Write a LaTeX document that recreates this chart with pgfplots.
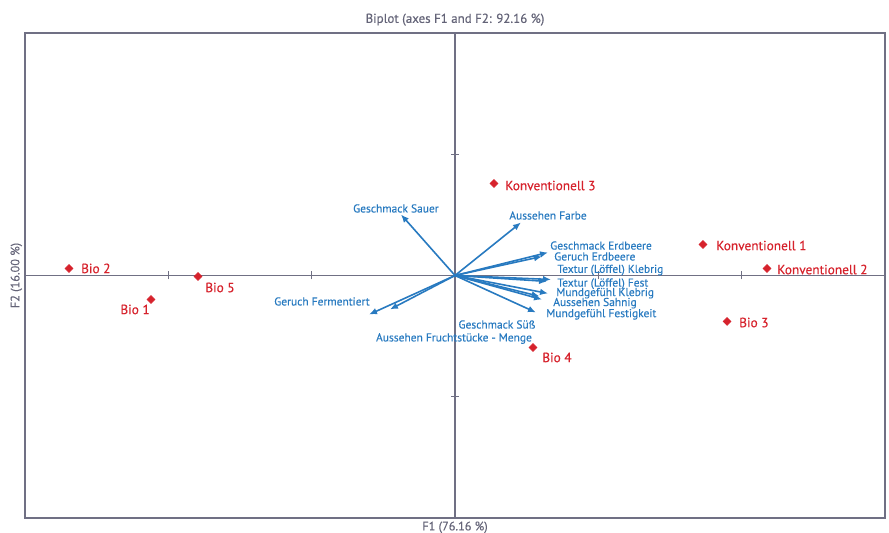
\documentclass[border=0pt]{standalone}
\usepackage{fontspec}
\setmainfont{PT Sans}
\newfontfamily\medfont{PT Sans}[FakeBold=0.35]
\usepackage{pgfplots}
\pgfplotsset{compat=1.18}
\usetikzlibrary{arrows.meta,calc}

\definecolor{obsred}{RGB}{214,34,44}
\definecolor{varblue}{RGB}{40,122,192}
\definecolor{axgray}{RGB}{112,112,132}
\definecolor{txtgray}{RGB}{100,100,120}

\tikzset{
  vec/.style={varblue, line width=1.2pt, -{Latex[length=6pt,width=5pt]}},
  vlab/.style={font=\medfont\fontsize{8.6}{10}\selectfont, text=varblue, inner sep=0pt},
  olab/.style={font=\medfont\fontsize{10}{12}\selectfont, text=obsred, inner sep=0pt},
  ttl/.style={text=txtgray, font=\medfont\fontsize{9.2}{11}\selectfont},
}

\begin{document}
\begin{tikzpicture}
\begin{axis}[
  name=ax,
  scale only axis,
  width=645pt, height=363.75pt,
  xmin=-3, xmax=3, ymin=-2, ymax=2,
  axis lines=middle,
  axis line style={axgray, line width=0.9pt, -},
  xtick={-2,-1,1,2}, ytick={-1,1},
  xticklabels={}, yticklabels={},
  tick align=center,
  major tick length=6pt,
  tick style={axgray, line width=0.9pt},
  clip=false,
]
% frame
\draw[axgray, line width=0.9pt] (rel axis cs:0,0) rectangle (rel axis cs:1,1);

% variable vectors
\addplot[vec] coordinates {(0,0) (0.649,0.190)};   % Geschmack Erdbeere
\addplot[vec] coordinates {(0,0) (0.607,0.157)};   % Geruch Erdbeere
\addplot[vec] coordinates {(0,0) (0.670,-0.033)};  % Textur (Löffel) Klebrig
\addplot[vec] coordinates {(0,0) (0.642,-0.049)};  % Textur (Löffel) Fest
\addplot[vec] coordinates {(0,0) (0.649,-0.148)};  % Mundgefühl Klebrig
\addplot[vec] coordinates {(0,0) (0.607,-0.198)};  % Aussehen Sahnig
\addplot[vec] coordinates {(0,0) (0.590,-0.172)};  % Geschmack Süß
\addplot[vec] coordinates {(0,0) (0.565,-0.305)};  % Mundgefühl Festigkeit
\addplot[vec] coordinates {(0,0) (-0.600,-0.322)}; % Geruch Fermentiert
\addplot[vec] coordinates {(0,0) (-0.454,-0.280)}; % Aussehen Fruchtstücke - Menge
\addplot[vec] coordinates {(0,0) (-0.377,0.503)};  % Geschmack Sauer
\addplot[vec] coordinates {(0,0) (0.460,0.437)};   % Aussehen Farbe

% observations
\addplot[only marks, mark=square*, mark size=2.1pt, mark options={rotate=45}, color=obsred] coordinates {
  (-2.693,0.058) (-1.793,-0.008) (-2.121,-0.198) (0.272,0.759)
  (1.730,0.256) (2.177,0.058) (1.898,-0.379) (0.544,-0.594)
};

% variable labels
\node[vlab] at (axis cs:-0.412,0.553) {Geschmack Sauer};
\node[vlab] at (axis cs:0.649,0.495) {Aussehen Farbe};
\node[vlab, anchor=west] at (axis cs:0.663,0.247) {Geschmack Erdbeere};
\node[vlab, anchor=west] at (axis cs:0.691,0.157) {Geruch Erdbeere};
\node[vlab, anchor=west] at (axis cs:0.712,0.045) {Textur (Löffel) Klebrig};
\node[vlab, anchor=west] at (axis cs:0.712,-0.068) {Textur (Löffel) Fest};
\node[vlab, anchor=west] at (axis cs:0.705,-0.146) {Mundgefühl Klebrig};
\node[vlab, anchor=west] at (axis cs:0.684,-0.228) {Aussehen Sahnig};
\node[vlab, anchor=west] at (axis cs:0.635,-0.320) {Mundgefühl Festigkeit};
\node[vlab] at (axis cs:0.293,-0.404) {Geschmack Süß};
\node[vlab] at (axis cs:-0.007,-0.520) {Aussehen Fruchtstücke - Menge};
\node[vlab] at (axis cs:-0.928,-0.214) {Geruch Fermentiert};

% observation labels
\node[olab, anchor=west] at (axis cs:-2.610,0.058) {Bio 2};
\node[olab, anchor=west] at (axis cs:-1.744,-0.099) {Bio 5};
\node[olab, anchor=east] at (axis cs:-2.128,-0.280) {Bio 1};
\node[olab, anchor=west] at (axis cs:0.349,0.742) {Konventionell 3};
\node[olab, anchor=west] at (axis cs:1.821,0.247) {Konventionell 1};
\node[olab, anchor=west] at (axis cs:2.247,0.049) {Konventionell 2};
\node[olab, anchor=west] at (axis cs:1.981,-0.388) {Bio 3};
\node[olab, anchor=west] at (axis cs:0.607,-0.676) {Bio 4};
\end{axis}

% title and axis titles
\node[ttl, font=\medfont\fontsize{9.7}{12}\selectfont] at ($(ax.north)+(0,10pt)$) {Biplot (axes F1 and F2: 92.16 \%)};
\node[ttl] at ($(ax.south)+(0,-7pt)$) {F1 (76.16 \%)};
\node[ttl, rotate=90] at ($(ax.west)+(-6.5pt,0)$) {F2 (16.00 \%)};

\pgfresetboundingbox
\path ($(ax.south west)+(-18.75pt,-11.25pt)$) rectangle ($(ax.north east)+(3pt,24.75pt)$);
\end{tikzpicture}
\end{document}
